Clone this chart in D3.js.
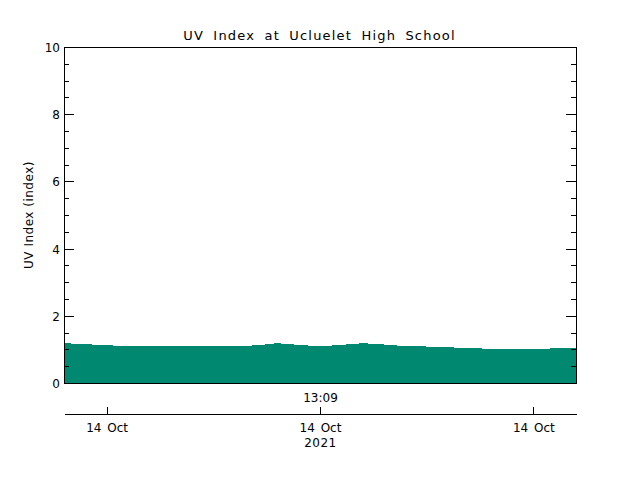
<!DOCTYPE html>
<html>
<head>
<meta charset="utf-8">
<script src="https://cdn.jsdelivr.net/npm/d3@7"></script>
<style>
  html, body { margin: 0; padding: 0; background: #fff; }
  svg { display: block; }
  text { font-family: "DejaVu Sans", sans-serif; fill: #000; }
</style>
</head>
<body>
<svg id="chart" width="640" height="480"></svg>
<script>
// ---- data ----
const title = "UV Index at Ucluelet High School";
const yLabel = "UV Index (index)";
const day = "2021-10-14";
const times = ["11:57","12:01","12:05","12:09","12:13","12:17","12:21","12:25","12:29","12:33",
  "12:37","12:41","12:45","12:49","12:53","12:57","13:01","13:05","13:09","13:13",
  "13:17","13:21","13:25","13:29","13:33","13:37","13:41","13:45","13:49","13:53",
  "13:57","14:01","14:05","14:09","14:13","14:17","14:21"];
const uvIndex = [1.20,1.18,1.16,1.14,1.12,1.11,1.11,1.11,1.11,1.11,
  1.11,1.11,1.11,1.125,1.155,1.20,1.165,1.135,1.11,1.135,
  1.165,1.20,1.175,1.145,1.11,1.11,1.09,1.08,1.06,1.05,
  1.03,1.02,1.02,1.02,1.04,1.05,1.07];
const xTickTimes = ["12:09","13:09","14:09"];
const xTickLabel = "14 Oct";
const centerLabel = "13:09";
const yearLabel = "2021";
const yDomain = [0, 10];
const yMajorTicks = [0, 2, 4, 6, 8, 10];
const yMinorTicks = d3.range(0, 10.01, 0.5);

// ---- drawing ----
const parse = t => new Date(day + "T" + t + ":00Z");
const data = times.map((t, i) => ({ t: parse(t), v: uvIndex[i] }));

const L = 64, R = 576, T = 47, B = 383;
const svg = d3.select("#chart");

const x = d3.scaleUtc().domain([data[0].t, data[data.length - 1].t]).range([L, R]);
const y = d3.scaleLinear().domain(yDomain).range([B, T]);

// filled area
const area = d3.area()
  .x(d => x(d.t))
  .y0(y(0) + 0.5)
  .y1(d => y(d.v) + 0.5);
svg.append("path")
  .datum(data)
  .attr("d", area)
  .attr("fill", "#008870")
  .attr("shape-rendering", "crispEdges");

// frame
svg.append("rect")
  .attr("x", L + 0.5).attr("y", T + 0.5)
  .attr("width", R - L).attr("height", B - T)
  .attr("fill", "none").attr("stroke", "#000").attr("stroke-width", 1)
  .attr("shape-rendering", "crispEdges");

// left axis (ticks inward)
const leftMajor = d3.axisRight(y).tickValues(yMajorTicks).tickSize(10).tickFormat("");
const leftMinor = d3.axisRight(y).tickValues(yMinorTicks).tickSize(5).tickFormat("");
[leftMinor, leftMajor].forEach(ax => {
  const g = svg.append("g").attr("transform", `translate(${L},0)`).call(ax);
  g.select(".domain").remove();
  g.selectAll("line").attr("stroke", "#000").attr("shape-rendering", "crispEdges");
});
// right axis (ticks inward)
const rightMajor = d3.axisLeft(y).tickValues(yMajorTicks).tickSize(10).tickFormat("");
const rightMinor = d3.axisLeft(y).tickValues(yMinorTicks).tickSize(5).tickFormat("");
[rightMinor, rightMajor].forEach(ax => {
  const g = svg.append("g").attr("transform", `translate(${R},0)`).call(ax);
  g.select(".domain").remove();
  g.selectAll("line").attr("stroke", "#000").attr("shape-rendering", "crispEdges");
});

// y tick labels
svg.append("g").selectAll("text")
  .data(yMajorTicks).join("text")
  .attr("x", L - 4)
  .attr("y", d => y(d) + 5)
  .attr("text-anchor", "end")
  .attr("font-size", 12)
  .text(d => d);

// y axis label
svg.append("text")
  .attr("transform", `translate(33,${(T + B) / 2}) rotate(-90)`)
  .attr("text-anchor", "middle")
  .attr("font-size", 12)
  .attr("letter-spacing", 0.5)
  .text(yLabel);

// title
svg.append("text")
  .attr("x", (L + R) / 2 - 0.5).attr("y", 40)
  .attr("text-anchor", "middle")
  .attr("font-size", 13)
  .attr("letter-spacing", 1.2)
  .attr("word-spacing", 4)
  .text(title);

// separate time axis below
const xAxisY = 414;
const xAxis = d3.axisTop(x)
  .tickValues(xTickTimes.map(parse))
  .tickSize(7)
  .tickSizeOuter(0)
  .tickFormat("");
const gx = svg.append("g").attr("transform", `translate(0,${xAxisY})`).call(xAxis);
gx.select(".domain").attr("stroke", "#000").attr("shape-rendering", "crispEdges");
gx.selectAll("line").attr("stroke", "#000").attr("shape-rendering", "crispEdges");

svg.append("g").selectAll("text")
  .data(xTickTimes.map(parse)).join("text")
  .attr("x", d => x(d) + 0.5)
  .attr("y", 432)
  .attr("text-anchor", "middle")
  .attr("font-size", 12)
  .attr("word-spacing", 2)
  .text(xTickLabel);

svg.append("text")
  .attr("x", x(parse(centerLabel)) + 0.5).attr("y", 402)
  .attr("text-anchor", "middle")
  .attr("font-size", 12)
  .text(centerLabel);

svg.append("text")
  .attr("x", x(parse(centerLabel)) + 0.5).attr("y", 447)
  .attr("text-anchor", "middle")
  .attr("font-size", 12)
  .attr("letter-spacing", 0.5)
  .text(yearLabel);
</script>
</body>
</html>
